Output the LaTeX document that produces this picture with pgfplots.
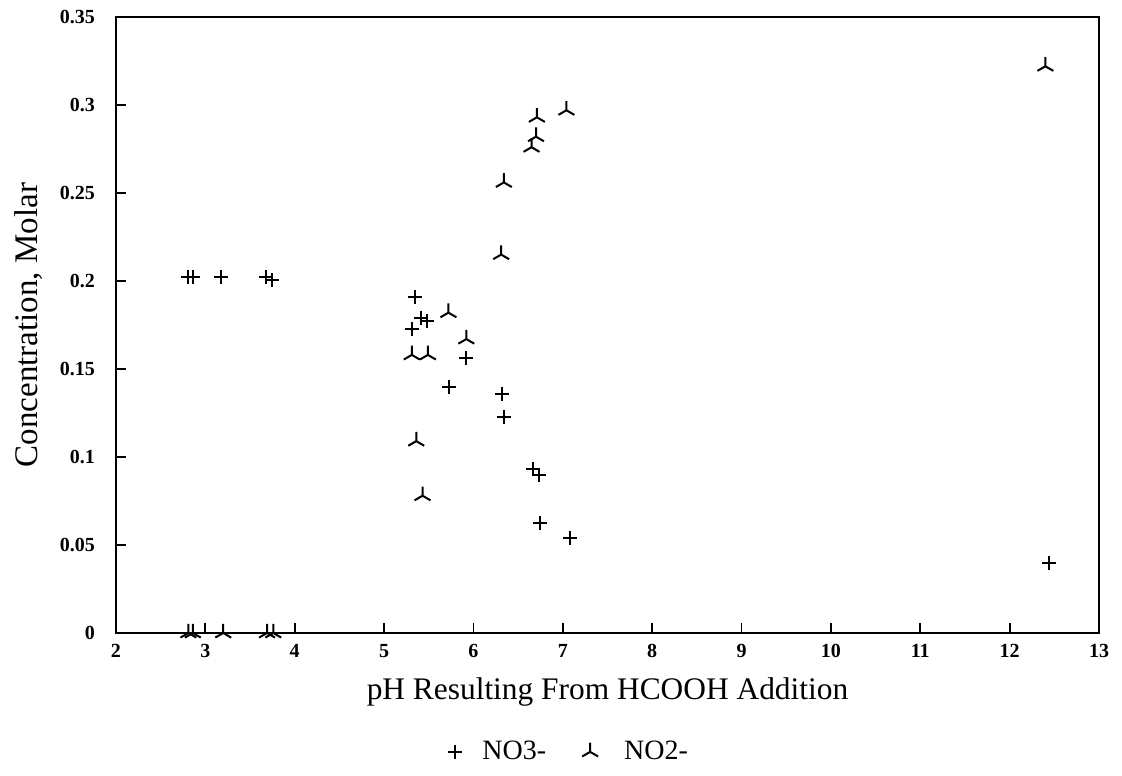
\documentclass[border=0pt]{standalone}
\usepackage{fontspec}
\setmainfont{Liberation Serif}
\usepackage{pgfplots}
\pgfplotsset{compat=1.18}
\usetikzlibrary{plotmarks}
\begin{document}
\begin{tikzpicture}
\begin{axis}[
  scale only axis,
  width=491.5pt, height=308pt,
  xmin=2, xmax=13, ymin=0, ymax=0.35,
  xtick={2,3,...,13},
  ytick={0,0.05,0.1,0.15,0.2,0.25,0.3,0.35},
  yticklabels={0,0.05,0.1,0.15,0.2,0.25,0.3,0.35},
  xtick pos=bottom, ytick pos=left,
  tick align=inside,
  major tick length=5pt,
  axis line style={line width=1.3pt},
  every tick/.style={black, line width=0.9pt},
  /pgf/number format/assume math mode=true,
  tick label style={font=\fontsize{10}{11}\selectfont\bfseries},
  yticklabel style={xshift=-7pt},
  xticklabel style={yshift=-2pt},
  xlabel={pH Resulting From HCOOH Addition},
  ylabel={Concentration, Molar},
  xlabel style={font=\fontsize{15.7}{17}\selectfont, yshift=-3pt},
  ylabel style={font=\fontsize{16.5}{18}\selectfont, yshift=2pt},
  clip mode=individual,
  legend style={draw=none, fill=none, at={(0.462,-0.193)}, anchor=center,
    font=\fontsize{14}{16}\selectfont, legend columns=2,
    /tikz/every even column/.append style={column sep=16pt}},
  legend cell align=left,
]
\addplot[only marks, mark=+, mark size=3.5pt, line width=1pt, black] coordinates {
(2.81,0.202) (2.86,0.202) (3.18,0.202) (3.68,0.202) (3.75,0.2005)
(5.35,0.191) (5.41,0.179) (5.48,0.177) (5.31,0.173) (5.92,0.156)
(5.73,0.140) (6.32,0.136) (6.34,0.123) (6.67,0.093) (6.73,0.090)
(6.75,0.0625) (7.08,0.054) (12.44,0.040)
};
\addlegendentry{\hspace{8pt}NO3-}
\addplot[only marks, mark=Mercedes star, mark size=4.6pt, line width=1pt, black] coordinates {
(2.81,0) (2.86,0) (3.2,0) (3.69,0) (3.76,0)
(5.31,0.158) (5.49,0.158) (5.36,0.109) (5.43,0.078) (5.72,0.182)
(5.92,0.167) (6.31,0.215) (6.34,0.256) (6.65,0.276) (6.70,0.282)
(6.71,0.293) (7.04,0.297) (12.40,0.322)
};
\addlegendentry{\hspace{11pt}NO2-}
\end{axis}
\pgfresetboundingbox
\path ([shift={(-58pt,-71pt)}]current axis.south west) rectangle ([shift={(11.5pt,8.5pt)}]current axis.north east);
\end{tikzpicture}
\end{document}
